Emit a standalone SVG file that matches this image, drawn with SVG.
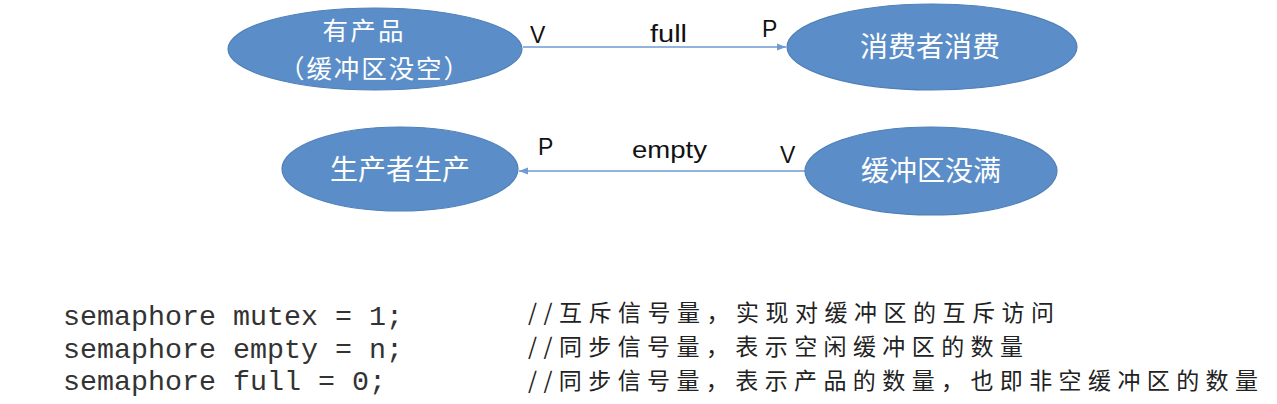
<svg xmlns="http://www.w3.org/2000/svg" width="1277" height="404" viewBox="0 0 1277 404">
<style>
.node ellipse{fill:#5b8ec8;stroke:#4f80b8;stroke-width:1.2}
.nt{font-family:"Noto Sans CJK SC","Noto Sans",sans-serif;font-size:28px;fill:#ffffff;text-anchor:middle}
.nt2{font-size:25.5px}
.edge{stroke:#6e9bd0;stroke-width:1.6;fill:none}
.lbl{font-family:"Liberation Sans",Arial,sans-serif;font-size:23px;fill:#111111}
.code{font-family:"Liberation Mono","Courier New",monospace;font-size:28px;fill:#333333}
.cmt{font-family:"Noto Sans CJK SC",sans-serif;font-size:23px;fill:#222222}
</style>
<defs>
<marker id="ah" viewBox="0 0 10 10" refX="10" refY="5" markerWidth="9" markerHeight="9" markerUnits="userSpaceOnUse" orient="auto">
<path d="M0,1 L10,5 L0,9 Z" fill="#6e9bd0"/>
</marker>
</defs>
<g id="connectors">
<line class="edge" x1="523" y1="47" x2="786" y2="47" marker-end="url(#ah)"/>
<line class="edge" x1="805" y1="171" x2="519" y2="171" marker-end="url(#ah)"/>
<text class="lbl" x="530" y="43">V</text>
<text class="lbl" x="650" y="42" textLength="37" lengthAdjust="spacingAndGlyphs">full</text>
<text class="lbl" x="762" y="37">P</text>
<text class="lbl" x="538" y="155">P</text>
<text class="lbl" x="632" y="158" textLength="75" lengthAdjust="spacingAndGlyphs">empty</text>
<text class="lbl" x="780" y="163">V</text>
</g>
<g id="node-has-product" class="node">
<ellipse cx="375" cy="49" rx="147" ry="41"/>
<text class="nt nt2" x="363" y="40" textLength="81" lengthAdjust="spacing">有产品</text>
<text class="nt nt2" x="374" y="78" textLength="190" lengthAdjust="spacing">（缓冲区没空）</text>
</g>
<g id="node-consumer" class="node">
<ellipse cx="932" cy="47" rx="145" ry="43"/>
<text class="nt" x="930" y="57">消费者消费</text>
</g>
<g id="node-producer" class="node">
<ellipse cx="400" cy="169" rx="118" ry="42"/>
<text class="nt" x="400" y="180">生产者生产</text>
</g>
<g id="node-buffer-not-full" class="node">
<ellipse cx="931" cy="171" rx="126" ry="44"/>
<text class="nt" x="931" y="181">缓冲区没满</text>
</g>
<g id="code">
<text class="code" x="63" y="325" textLength="340" lengthAdjust="spacingAndGlyphs">semaphore mutex = 1;</text>
<text class="code" x="63" y="358" textLength="340" lengthAdjust="spacingAndGlyphs">semaphore empty = n;</text>
<text class="code" x="63" y="390" textLength="323" lengthAdjust="spacingAndGlyphs">semaphore full = 0;</text>
<text class="cmt" x="528" y="321" textLength="526" lengthAdjust="spacing">//互斥信号量，实现对缓冲区的互斥访问</text>
<text class="cmt" x="528" y="355" textLength="495" lengthAdjust="spacing">//同步信号量，表示空闲缓冲区的数量</text>
<text class="cmt" x="528" y="389" textLength="730" lengthAdjust="spacing">//同步信号量，表示产品的数量，也即非空缓冲区的数量</text>
</g>
</svg>
